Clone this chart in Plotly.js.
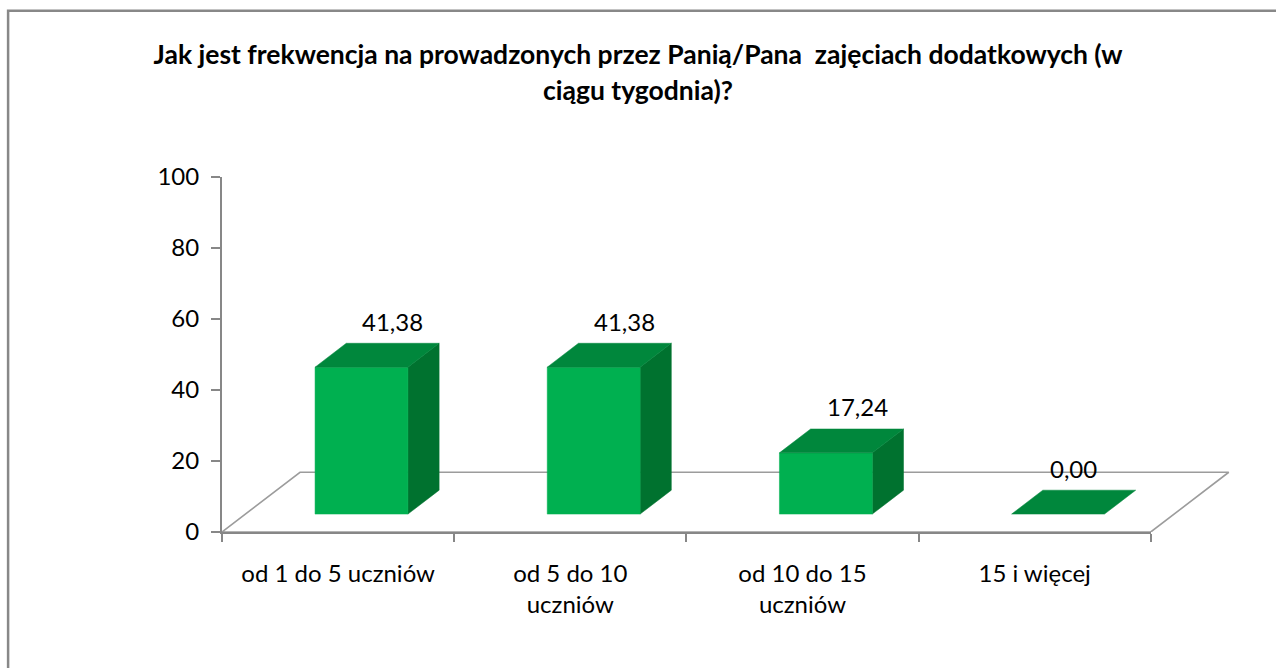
<!DOCTYPE html>
<html>
<head>
<meta charset="utf-8">
<script src="https://cdn.plot.ly/plotly-3.0.1.min.js"></script>
<style>
  html, body { margin: 0; padding: 0; background: #ffffff; }
  #chart { width: 1276px; height: 668px; }
</style>
</head>
<body>
<div id="chart"></div>
<script>
// ---- data ----
const categories = ['od 1 do 5 uczniów', 'od 5 do 10 uczniów', 'od 10 do 15 uczniów', '15 i więcej'];
const tickLabels = ['od 1 do 5 uczniów', 'od 5 do 10<br>uczniów', 'od 10 do 15<br>uczniów', '15 i więcej'];
const values = [41.38, 41.38, 17.24, 0.00];
const yTicks = [0, 20, 40, 60, 80, 100];
const titleLines = ['Jak jest frekwencja na prowadzonych przez Panią/Pana  zajęciach dodatkowych (w', 'ciągu tygodnia)?'];

// ---- style / 3D geometry (in axis units) ----
const W = 1276, H = 668;
const M = { l: 222, r: 30.5, t: 177, b: 136.3 };
const DX = 0.336;     // floor depth along x (category units)
const DY = 16.83;     // floor depth along y (value units)
const FRONT = 0.3;    // bar front at this fraction of depth
const BACK = 0.7;     // bar back at this fraction of depth
const HALF = 0.2;     // half bar width (category units)
const PAD = 0.07;
const FONT = 'Lato, "Open Sans", sans-serif';
const AXIS_COL = '#878787';
const FLOOR_COL = '#9c9c9c';
const C_FRONT = '#00b050';
const C_TOP = '#00873c';
const C_SIDE = '#00722f';

const n = categories.length;
const xMax = n - 0.5 + DX + PAD;
const PW = W - M.l - M.r, PH = H - M.t - M.b;
const px2x = p => (p - M.l) / PW;
const py2y = p => (H - M.b - p) / PH;

const traces = [];

// floor
traces.push({
  x: [-0.5, n - 0.5, n - 0.5 + DX, -0.5 + DX, -0.5],
  y: [0, 0, DY, DY, 0],
  mode: 'lines', line: { color: FLOOR_COL, width: 1.6 },
  hoverinfo: 'skip', showlegend: false, xaxis: 'x', yaxis: 'y'
});

function poly(xs, ys, color) {
  traces.push({
    x: xs.concat([xs[0]]), y: ys.concat([ys[0]]),
    mode: 'lines', fill: 'toself', fillcolor: color,
    line: { color: color, width: 0.5 },
    hoverinfo: 'skip', showlegend: false, xaxis: 'x', yaxis: 'y'
  });
}

values.forEach((v, i) => {
  const xl = i - HALF, xr = i + HALF;
  const fx = FRONT * DX, fy = FRONT * DY, bx = BACK * DX, by = BACK * DY;
  if (v > 0) {
    poly([xr + fx, xr + bx, xr + bx, xr + fx], [fy, by, v + by, v + fy], C_SIDE);   // side
    poly([xl + fx, xr + fx, xr + fx, xl + fx], [fy, fy, v + fy, v + fy], C_FRONT);  // front
  }
  poly([xl + fx, xr + fx, xr + bx, xl + bx], [v + fy, v + fy, v + by, v + by], C_TOP); // top
});

// category axis carrier
traces.push({
  x: tickLabels, y: values, mode: 'markers',
  marker: { opacity: 0, size: 1 },
  hoverinfo: 'skip', showlegend: false, xaxis: 'x2', yaxis: 'y'
});

// data labels
const annotations = values.map((v, i) => ({
  x: v > 0 ? i + BACK * DX : i + 0.5 * DX,
  y: v + BACK * DY,
  xref: 'x', yref: 'y',
  text: v.toFixed(2).replace('.', ','),
  showarrow: false, xanchor: 'center', yanchor: 'middle', yshift: 22,
  font: { family: FONT, size: 24, color: '#000000' }
}));

const span = s => '<span style="font-size:26.5px">' + s + '</span>';

const layout = {
  width: W, height: H,
  margin: M,
  paper_bgcolor: '#ffffff', plot_bgcolor: 'rgba(0,0,0,0)',
  showlegend: false,
  title: {
    text: titleLines.map(span).join('<br>'),
    font: { family: FONT, size: 28, color: '#000000', weight: 'bold' },
    x: 0.5, xanchor: 'center', xref: 'container',
    y: 1 - 64 / H, yanchor: 'middle', yref: 'container'
  },
  xaxis: {
    domain: [0, 1], range: [-0.5, xMax], anchor: 'y',
    visible: false, fixedrange: true
  },
  xaxis2: {
    domain: [0, n / (n + DX + PAD)], anchor: 'y',
    type: 'category', range: [-0.5, n - 0.5],
    tickson: 'boundaries', ticks: 'outside', ticklen: 8, tickwidth: 2, tickcolor: AXIS_COL,
    showline: true, linecolor: AXIS_COL, linewidth: 2,
    showgrid: false, zeroline: false,
    tickfont: { family: FONT, size: 24, color: '#000000' },
    ticklabelstandoff: 19, fixedrange: true
  },
  yaxis: {
    range: [0, 100], tickvals: yTicks, anchor: 'x',
    ticks: 'outside', ticklen: 9, tickwidth: 2, tickcolor: AXIS_COL,
    showline: true, linecolor: AXIS_COL, linewidth: 2,
    showgrid: false, zeroline: false,
    tickfont: { family: FONT, size: 24, color: '#000000' },
    ticklabelstandoff: 7, fixedrange: true
  },
  annotations: annotations,
  shapes: [{
    type: 'rect', xref: 'paper', yref: 'paper',
    x0: px2x(8), x1: px2x(1300), y0: py2y(11), y1: py2y(700),
    line: { color: '#888888', width: 2.5 }, fillcolor: 'rgba(0,0,0,0)'
  }]
};

Plotly.newPlot('chart', traces, layout, { displayModeBar: false, staticPlot: true });
</script>
</body>
</html>
